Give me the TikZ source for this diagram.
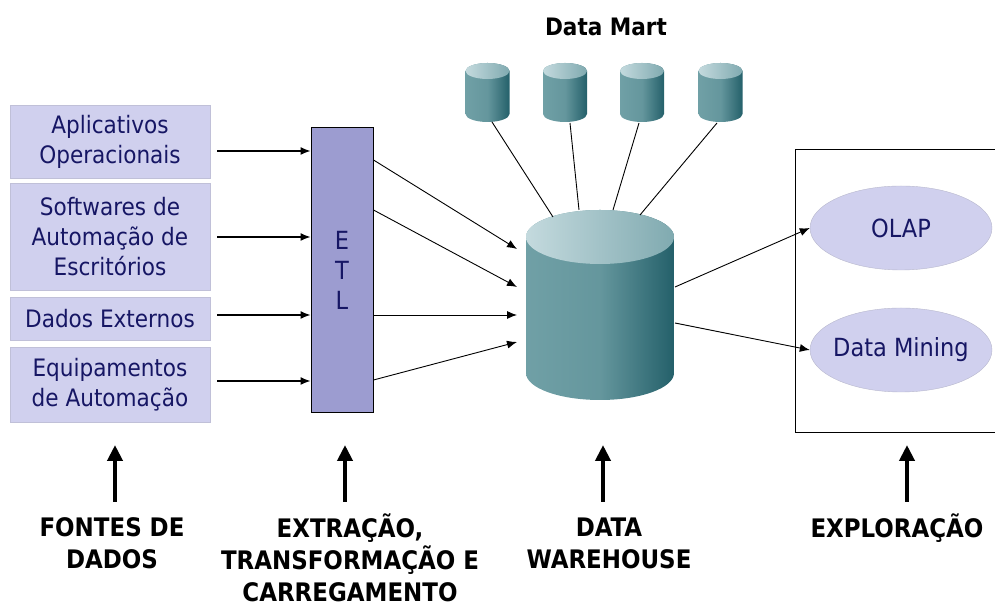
\documentclass[tikz,border=0pt]{standalone}
\usepackage{fontspec}
\setmainfont{DejaVu Sans Condensed}
\usetikzlibrary{arrows.meta,calc,shapes.geometric}
\definecolor{boxfill}{RGB}{208,208,238}
\definecolor{etlfill}{RGB}{156,156,208}
\definecolor{navy}{RGB}{22,22,100}
\definecolor{tealL}{RGB}{112,160,166}
\definecolor{tealD}{RGB}{36,96,106}
\definecolor{topL}{RGB}{196,218,222}
\definecolor{topD}{RGB}{128,170,176}
\tikzset{
  srcbox/.style={fill=boxfill, draw=boxfill!80!gray, minimum width=200pt, inner sep=0pt,
    align=center, text=navy, font=\fontsize{24}{30}\selectfont},
  etlbox/.style={fill=etlfill, draw=black, line width=1pt, minimum width=62pt, minimum height=285pt,
    align=center, text=navy, font=\fontsize{25}{30}\selectfont},
  toolell/.style={ellipse, fill=boxfill, draw=boxfill!70!gray, minimum width=182pt, minimum height=84pt,
    inner xsep=-6pt, inner ysep=0pt, text=navy, font=\fontsize{25}{28}\selectfont},
  arr/.style={-{Latex[length=10pt,width=8pt]}, line width=1.3pt},
  thinarr/.style={-{Latex[length=10pt,width=8pt]}, line width=0.9pt},
  martline/.style={line width=0.9pt},
  uparr/.style={-{Triangle[length=16pt,width=15pt]}, line width=4pt},
  caption/.style={align=center, anchor=north, inner sep=0pt, font=\bfseries\fontsize{25.5}{32}\selectfont},
}
\newcommand{\dbcyl}[5]{% center x, top-ellipse y, bottom-ellipse y, x radius, y radius
  \shade[left color=tealL, right color=tealD, middle color=tealL!85!tealD]
    (#1-#4,#2) -- (#1-#4,#3) arc[start angle=180,end angle=360,x radius=#4,y radius=#5]
    -- (#1+#4,#2) arc[start angle=0,end angle=180,x radius=#4,y radius=#5] -- cycle;
  \shade[left color=topL, right color=topD] (#1,#2) ellipse[x radius=#4,y radius=#5];
}
\begin{document}
\begin{tikzpicture}[x=1pt,y=1pt]
\useasboundingbox (0,0) rectangle (995,604);

% data sources
\node[srcbox, minimum height=73pt]  (s1) at (110,462.5) {Aplicativos\\Operacionais};
\node[srcbox, minimum height=107pt] (s2) at (110,367.5) {Softwares de\\Automação de\\Escritórios};
\node[srcbox, minimum height=43pt]  (s3) at (110,285.5) {Dados Externos};
\node[srcbox, minimum height=75pt]  (s4) at (110,219.5) {Equipamentos\\de Automação};

% ETL column
\node[etlbox] (etl) at (342,334) {E\\T\\L};

\draw[arr] ($(s1.east|-0,453)+(7,0)$) -- (etl.west|-0,453);
\draw[arr] ($(s2.east|-0,367)+(7,0)$) -- (etl.west|-0,367);
\draw[arr] ($(s3.east|-0,289)+(7,0)$) -- (etl.west|-0,289);
\draw[arr] ($(s4.east|-0,223)+(7,0)$) -- (etl.west|-0,223);

% data warehouse
\dbcyl{600}{367}{231}{74}{27}
\coordinate (dwin1) at (517,355);
\coordinate (dwin2) at (517,317);
\coordinate (dwin3) at (517,289);
\coordinate (dwin4) at (517,262);
\coordinate (dwout1) at (675,317);
\coordinate (dwout2) at (675,281);

\draw[thinarr] (etl.east|-0,444) -- (dwin1);
\draw[thinarr] (etl.east|-0,394) -- (dwin2);
\draw[thinarr] (etl.east|-0,289) -- (dwin3);
\draw[thinarr] (etl.east|-0,224) -- (dwin4);

% data marts
\foreach \cx in {487.5,565,642,720.5}{\dbcyl{\cx}{533}{490}{22}{8}}
\coordinate (m1) at (492,482);
\coordinate (m2) at (570,481);
\coordinate (m3) at (639,481);
\coordinate (m4) at (717,481);
\coordinate (t1) at (553,387);
\coordinate (t2) at (579,394);
\coordinate (t3) at (613,394);
\coordinate (t4) at (640,389);
\draw[martline] (m1) -- (t1);
\draw[martline] (m2) -- (t2);
\draw[martline] (m3) -- (t3);
\draw[martline] (m4) -- (t4);
\node[font=\bfseries\fontsize{24}{26}\selectfont] (dm) at (606,577) {Data Mart};

% exploration
\draw[line width=1pt] (996,454) -- (795,454) -- (795,171) -- (996,171);
\node[toolell] (olap) at (901,376) {OLAP};
\node[toolell] (mining) at (901,254) {Data Mining};
\draw[thinarr] (dwout1) -- (olap.west);
\draw[thinarr] (dwout2) -- (mining.west);

% layer captions
\node[caption] (c1) at (112,86.5) {FONTES DE\\DADOS};
\node[caption] (c2) at (350,90) {EXTRAÇÃO,\\TRANSFORMAÇÃO E\\CARREGAMENTO};
\node[caption] (c3) at (609,86.5) {DATA\\WAREHOUSE};
\node[caption] (c4) at (897,90.5) {EXPLORAÇÃO};
\coordinate (u1) at (115,159);
\coordinate (u2) at (345,159);
\coordinate (u3) at (603,159);
\coordinate (u4) at (907,159);
\draw[uparr] (115,102) -- (u1);
\draw[uparr] (345,102) -- (u2);
\draw[uparr] (603,102) -- (u3);
\draw[uparr] (907,102) -- (u4);
\end{tikzpicture}
\end{document}
